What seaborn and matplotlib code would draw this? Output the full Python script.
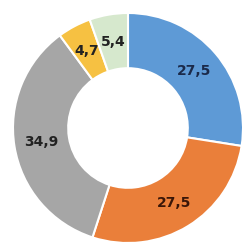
import matplotlib
matplotlib.use("Agg")
import matplotlib.pyplot as plt
import seaborn as sns

# данные
labels = ["27,5", "27,5", "34,9", "4,7", "5,4"]
values = [27.5, 27.5, 34.9, 4.7, 5.4]
colors = ["#5E9AD6", "#EA7F3A", "#A6A6A6", "#F6C142", "#D6E8CD"]
text_colors = ["#1B2A4A", "#3A1608", "#222222", "#222222", "#222222"]

sns.set_theme(style="white")
plt.rcParams['font.family'] = ['DejaVu Sans']

fig = plt.figure(figsize=(2.43, 2.44), dpi=100)
ax = fig.add_axes([0, 0, 1, 1])

wedges, texts = ax.pie(values, colors=colors, startangle=90, counterclock=False,
                       radius=1.0, wedgeprops=dict(width=0.48, edgecolor="white", linewidth=1.5))

for w, lab, tc in zip(wedges, labels, text_colors):
    import numpy as np
    ang = np.deg2rad((w.theta1 + w.theta2) / 2)
    r = 0.76
    ax.text(r * np.cos(ang), r * np.sin(ang), lab, ha="center", va="center",
            fontsize=10, fontweight="bold", color=tc)

ax.set_xlim(-128 / 115, (243 - 128) / 115)
ax.set_ylim(-(244 - 128) / 115, 128 / 115)
ax.set_aspect("equal")
ax.axis("off")

fig.savefig("out.png", dpi=100)
